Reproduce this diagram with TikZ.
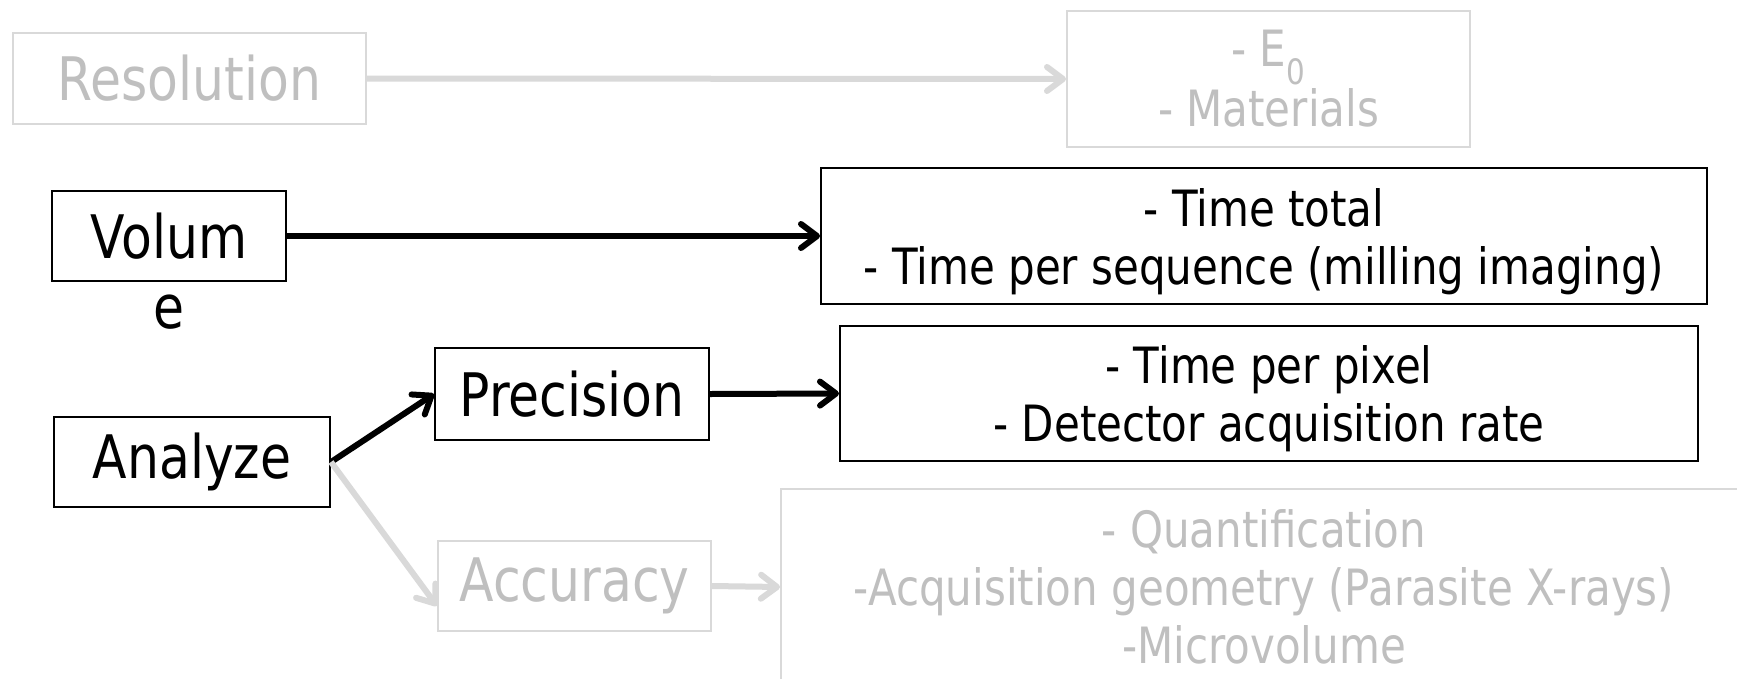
\documentclass[tikz,border=0pt]{standalone}
\usepackage{fontspec}
\setmainfont{DejaVu Sans}[FakeStretch=0.84]
\usetikzlibrary{arrows.meta,calc}
\definecolor{lgline}{HTML}{D9D9D9}
\definecolor{lgtext}{HTML}{BFBFBF}
\begin{document}
\begin{tikzpicture}[x=1pt,y=-1pt,
  bigfont/.style={font=\fontsize{60}{76}\selectfont},
  smallfont/.style={font=\fontsize{50}{58}\selectfont},
  bbox/.style={draw=black,line width=2pt,inner sep=0pt,align=center},
  gbox/.style={draw=lgline,line width=2pt,inner sep=0pt,align=center,text=lgtext},
  barrow/.style={line width=6pt,-{Straight Barb[length=16pt,width=24pt,round]}},
  garrow/.style={barrow,draw=lgline},
]
\useasboundingbox (0,0) rectangle (1737,678);
\fill[white] (0,0) rectangle (1737,678);

\node[gbox,bigfont,minimum width=353pt,minimum height=91pt] (res) at (189.5,78.5) {Resolution};
\node[gbox,smallfont,minimum width=403pt,minimum height=136pt] (mat) at (1268.5,79) {- E\textsubscript{0}\\[2pt]- Materials};

\node[bbox,bigfont,minimum width=234pt,minimum height=90pt] (vol) at (169,236) {Volum};
\node[bigfont,inner sep=0pt] (vole) at (169,312) {e};
\node[bbox,smallfont,text depth=0pt,minimum width=886pt,minimum height=136pt] (time) at (1264,236) {- Time total\\- Time per sequence (milling imaging)};

\node[bbox,bigfont,minimum width=276pt,minimum height=90pt] (ana) at (192,462) {Analyze};
\node[bbox,bigfont,minimum width=274pt,minimum height=92pt] (prec) at (572,394) {Precision};
\node[bbox,smallfont,text depth=0pt,minimum width=858pt,minimum height=135pt] (det) at (1269,393.5) {- Time per pixel\\- Detector acquisition rate};

\node[gbox,bigfont,minimum width=273pt,minimum height=90pt] (acc) at (574.5,586) {Accuracy};
\node[gbox,smallfont,minimum width=966pt,minimum height=196pt] (big) at (1264,587) {- Quantification\\-Acquisition geometry (Parasite X-rays)\\-Microvolume};

\draw[garrow] (res.east) -- (mat.west);
\draw[barrow] (vol.east) -- (time.west);
\draw[barrow] (ana.east) -- (prec.west);
\draw[barrow] (prec.east) -- (det.west);
\draw[garrow] (ana.east) -- ($(acc.west)+(0,20)$);
\draw[garrow] (acc.east) -- (big.west);
\end{tikzpicture}
\end{document}
